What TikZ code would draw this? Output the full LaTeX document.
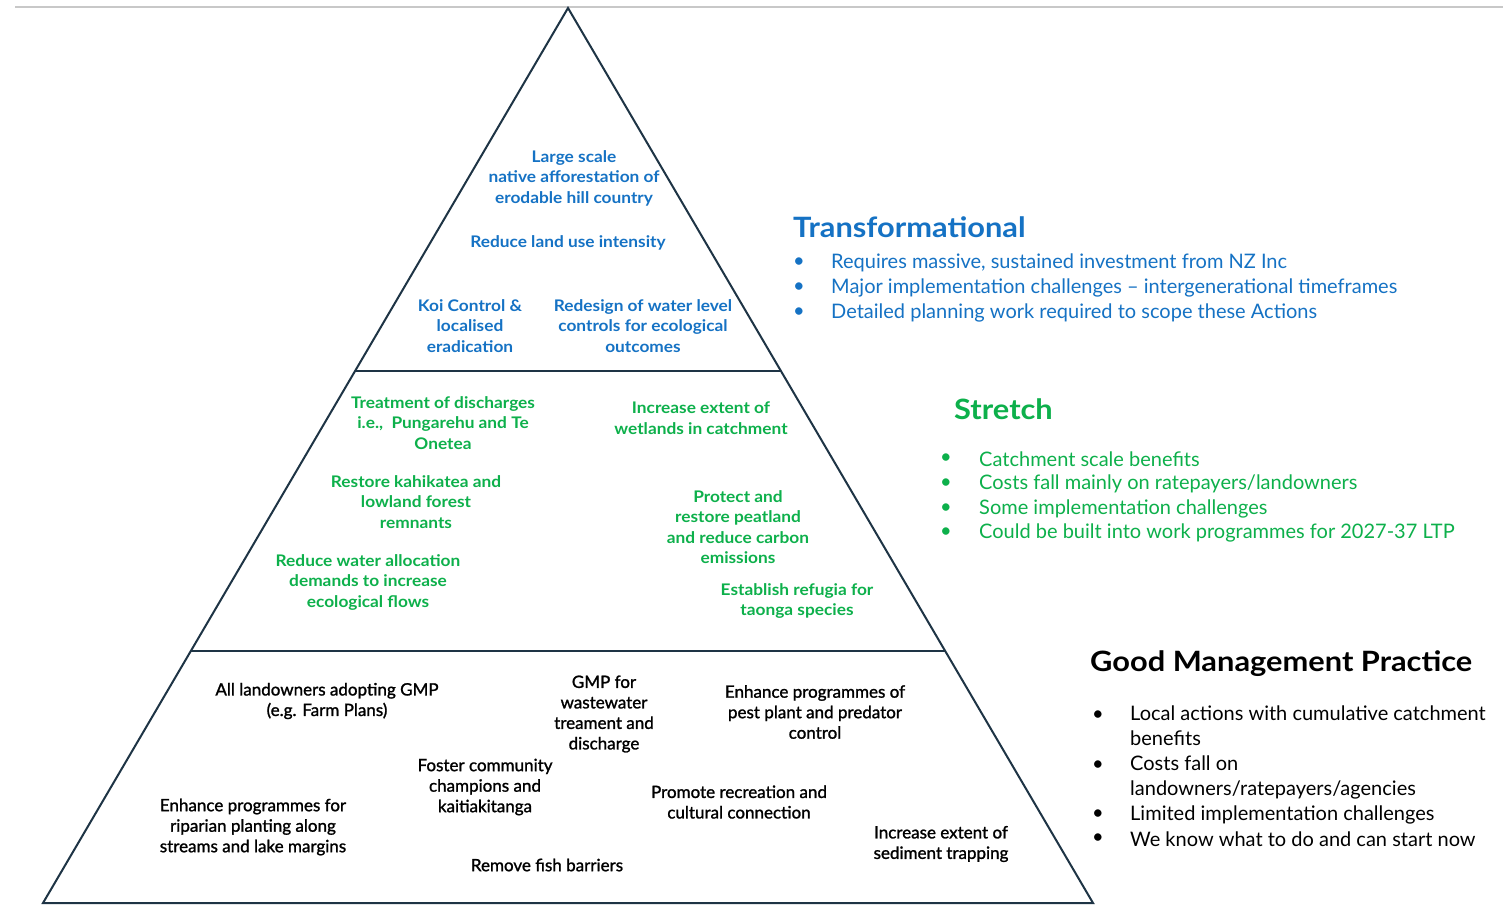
\documentclass[tikz,border=0pt]{standalone}
\usepackage{fontspec}
\setmainfont{Lato}
\newfontfamily\condfont[FakeBold=1.3]{Lato}
\newfontfamily\widefont[FakeStretch=1.08]{Lato}
\newfontfamily\headfont[FakeStretch=1.1]{Lato}
\definecolor{tblue}{HTML}{1572C4}
\definecolor{tgreen}{HTML}{0DB04B}
\definecolor{edge}{HTML}{1E3445}
\definecolor{topline}{HTML}{C8C8C8}
\begin{document}
\begin{tikzpicture}[x=1pt,y=-1pt,
  tri/.style={draw=edge,line width=2pt,line join=miter},
  bluetxt/.style={text=tblue,font=\fontsize{16}{20.5}\widefont\bfseries,align=center,inner sep=0pt},
  greentxt/.style={text=tgreen,font=\fontsize{16}{20.5}\widefont\bfseries,align=center,inner sep=0pt},
  blacktxt/.style={text=black,font=\fontsize{17}{20.5}\condfont,align=center,inner sep=0pt},
  head/.style={anchor=west,inner sep=0pt,font=\fontsize{28}{32}\headfont\bfseries},
  bul/.style={anchor=west,inner sep=0pt,font=\fontsize{20}{25}\selectfont},
  item/.style={anchor=west,inner sep=0pt,align=left,font=\fontsize{20}{25}\selectfont},
]
\useasboundingbox (0,0) rectangle (1503,905);
\fill[white] (0,0) rectangle (1503,905);
% top rule
\coordinate (tl) at (15,7);
\coordinate (tr) at (1503,7);
\draw[topline,line width=1.5pt] (tl) -- (tr);
% pyramid
\coordinate (apex) at (568,8);
\coordinate (bl) at (43,903);
\coordinate (br) at (1093,903);
\coordinate (l1) at (355,371);
\coordinate (r1) at (781,371);
\coordinate (l2) at (191,651);
\coordinate (r2) at (945,651);
\draw[tri] (apex) -- (bl) -- (br) -- cycle;
\draw[tri] (l1) -- (r1);
\draw[tri] (l2) -- (r2);

% top tier
\node[bluetxt] (t1) at (574,178) {Large scale\\native afforestation of\\erodable hill country};
\node[bluetxt] (t2) at (568,243) {Reduce land use intensity};
\node[bluetxt] (t3) at (470,326) {Koi Control \&\\localised\\eradication};
\node[bluetxt] (t4) at (643,326) {Redesign of water level\\controls for ecological\\outcomes};

% middle tier
\node[greentxt] (s1) at (443,423) {Treatment of discharges\\i.e.,\ \ Pungarehu and Te\\Onetea};
\node[greentxt] (s2) at (701,418) {Increase extent of\\wetlands in catchment};
\node[greentxt] (s3) at (416,502) {Restore kahikatea and\\lowland forest\\remnants};
\node[greentxt] (s4) at (738,527) {Protect and\\restore peatland\\and reduce carbon\\emissions};
\node[greentxt] (s5) at (368,582) {Reduce water allocation\\demands to increase\\ecological flows};
\node[greentxt] (s6) at (797,601) {Establish refugia for\\taonga species};

% bottom tier
\node[blacktxt] (g1) at (327,701) {All landowners adopting GMP\\(e.g. Farm Plans)};
\node[blacktxt] (g2) at (604,714) {GMP for\\wastewater\\treament and\\discharge};
\node[blacktxt] (g3) at (815,712) {Enhance programmes of\\pest plant and predator\\control};
\node[blacktxt] (g4) at (485,787) {Foster community\\champions and\\kaitiakitanga};
\node[blacktxt] (g5) at (739,802) {Promote recreation and\\cultural connection};
\node[blacktxt] (g6) at (253,827) {Enhance programmes for\\riparian planting along\\streams and lake margins};
\node[blacktxt] (g7) at (941,844) {Increase extent of\\sediment trapping};
\node[blacktxt] (g8) at (547,865) {Remove fish barriers};

% Transformational
\node[head,text=tblue] (h1) at (793,227) {Transformational};
\node[bul,text=tblue] (b11) at (793,263) {•};
\node[item,text=tblue] (i11) at (831,263) {Requires massive, sustained investment from NZ Inc};
\node[bul,text=tblue] (b12) at (793,288) {•};
\node[item,text=tblue] (i12) at (831,288) {Major implementation challenges – intergenerational timeframes};
\node[bul,text=tblue] (b13) at (793,313) {•};
\node[item,text=tblue] (i13) at (831,313) {Detailed planning work required to scope these Actions};

% Stretch
\node[head,text=tgreen] (h2) at (954,409) {Stretch};
\node[bul,text=tgreen] (b21) at (940,459) {•};
\node[item,text=tgreen] (i21) at (979,459) {Catchment scale benefits};
\node[bul,text=tgreen] (b22) at (940,484) {•};
\node[item,text=tgreen] (i22) at (979,484) {Costs fall mainly on ratepayers/landowners};
\node[bul,text=tgreen] (b23) at (940,509) {•};
\node[item,text=tgreen] (i23) at (979,509) {Some implementation challenges};
\node[bul,text=tgreen] (b24) at (940,533) {•};
\node[item,text=tgreen] (i24) at (979,533) {Could be built into work programmes for 2027-37 LTP};

% GMP
\node[head,text=black] (h3) at (1090,664) {Good Management Practice};
\node[bul] (b31) at (1092,716) {•};
\node[item,anchor=north west] (i31) at (1130,706) {Local actions with cumulative catchment\\benefits};
\node[bul] (b32) at (1092,766) {•};
\node[item,anchor=north west] (i32) at (1130,756) {Costs fall on\\landowners/ratepayers/agencies};
\node[bul] (b33) at (1092,815) {•};
\node[item] (i33) at (1130,815) {Limited implementation challenges};
\node[bul] (b34) at (1092,839) {•};
\node[item] (i34) at (1130,839) {We know what to do and can start now};
\end{tikzpicture}
\end{document}
